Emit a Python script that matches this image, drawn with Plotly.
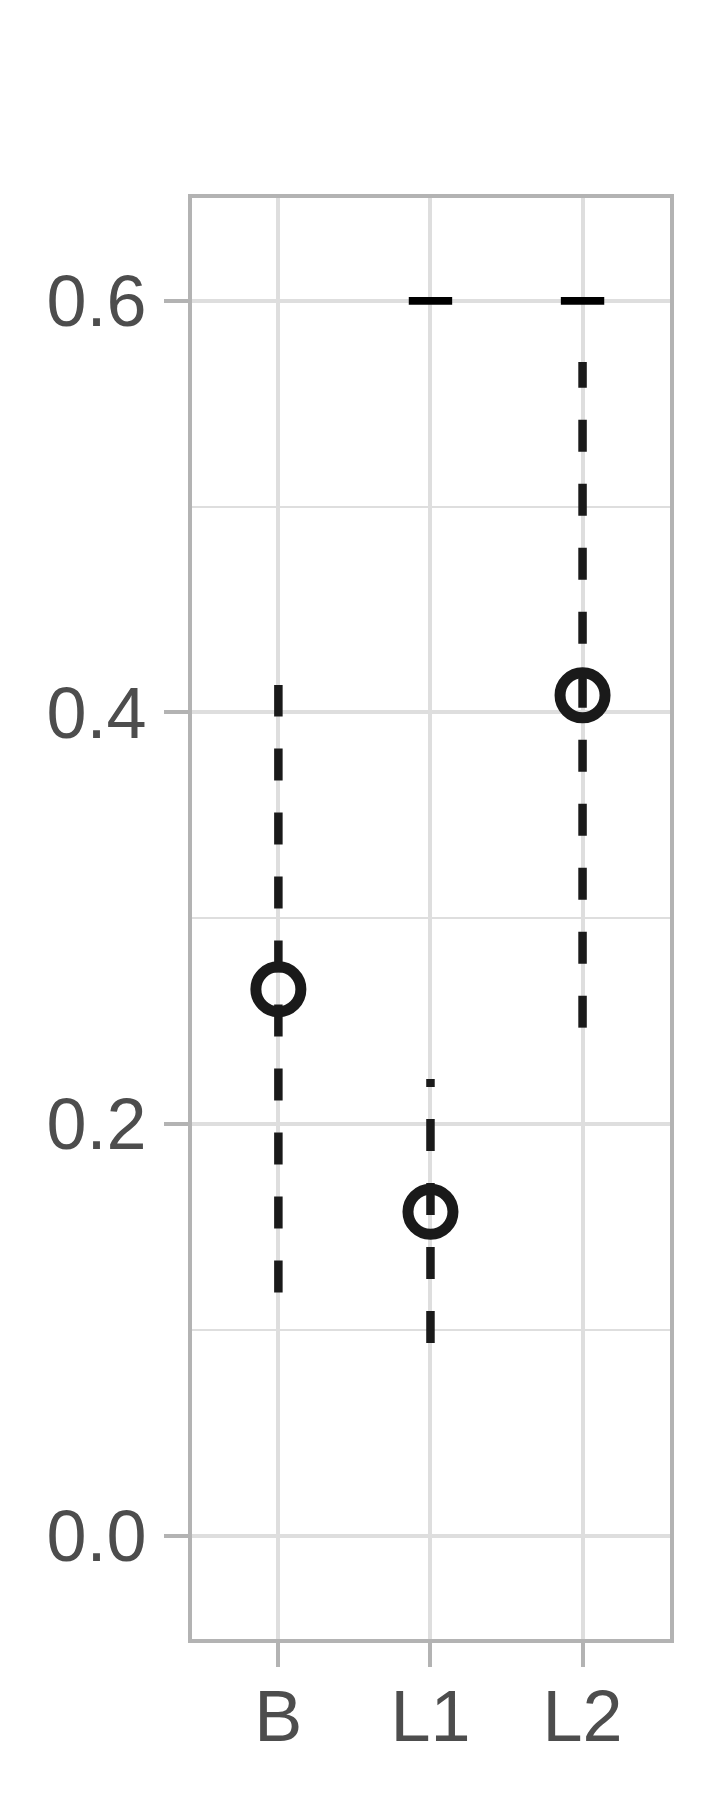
import plotly.graph_objects as go

# ---- data ----
categories = ["B", "L1", "L2"]
point_values = [0.2655, 0.1573, 0.4083]
lower_values = [0.1181, 0.0935, 0.2468]
upper_values = [0.4133, 0.2218, 0.5703]
cap_values = [None, 0.6, 0.6]
y_tick_values = [0.0, 0.2, 0.4, 0.6]
y_tick_labels = ["0.0", "0.2", "0.4", "0.6"]

INK = "#1a1a1a"
GRID = "#dedede"
FRAME = "#b3b3b3"
TEXT = "#4d4d4d"
FONT = "Liberation Sans, Arial, sans-serif"

fig = go.Figure()

# dashed ranges (drawn from lower to upper so the dash pattern starts at the bottom)
for cat, lo, hi in zip(categories, lower_values, upper_values):
    fig.add_trace(go.Scatter(
        x=[cat, cat], y=[lo, hi], mode="lines",
        line=dict(color=INK, width=8.5, dash="32px,32px"),
        hoverinfo="skip", showlegend=False,
    ))

# open circles
fig.add_trace(go.Scatter(
    x=categories, y=point_values, mode="markers",
    marker=dict(symbol="circle-open", size=45, color=INK,
                line=dict(color=INK, width=11)),
    showlegend=False,
))

# short horizontal marks at the top
fig.add_trace(go.Scatter(
    x=categories, y=cap_values, mode="markers",
    marker=dict(symbol="line-ew", size=31, color="#000000",
                line=dict(color="#000000", width=7.6)),
    showlegend=False,
))

fig.update_layout(
    width=720, height=1800,
    margin=dict(l=192, r=49.5, t=198, b=160.7, pad=0),
    paper_bgcolor="white", plot_bgcolor="white",
    font=dict(family=FONT, color=TEXT, size=72),
    showlegend=False,
)

fig.update_xaxes(
    type="category", categoryorder="array", categoryarray=categories,
    range=[-0.568, 2.575],
    showgrid=True, gridcolor=GRID, gridwidth=3.6,
    showline=True, linecolor=FRAME, linewidth=4, mirror=True,
    ticks="outside", ticklen=24, tickwidth=4, tickcolor=FRAME,
    tickfont=dict(family=FONT, size=72, color=TEXT),
    ticklabelstandoff=-12,
    zeroline=False,
)

fig.update_yaxes(
    range=[-0.0503, 0.650],
    tickvals=y_tick_values, ticktext=y_tick_labels,
    showgrid=True, gridcolor=GRID, gridwidth=3.6,
    minor=dict(dtick=0.1, tick0=0, showgrid=True, gridcolor=GRID, gridwidth=2, ticks=""),
    showline=True, linecolor=FRAME, linewidth=4, mirror=True,
    ticks="outside", ticklen=24, tickwidth=4, tickcolor=FRAME,
    tickfont=dict(family=FONT, size=72, color=TEXT),
    ticklabelstandoff=3,
    zeroline=False,
)

fig.write_html("out.html")
